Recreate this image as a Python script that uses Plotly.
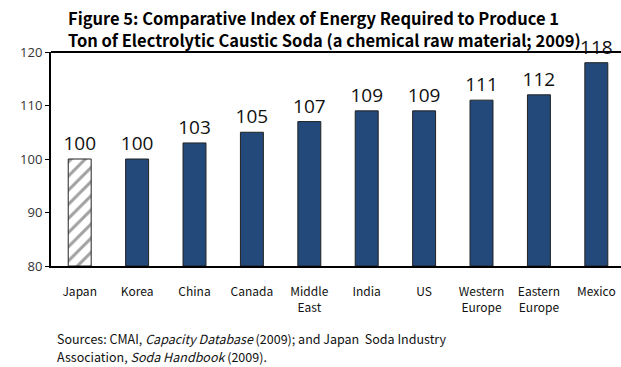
import plotly.graph_objects as go

categories = ["Japan", "Korea", "China", "Canada", "Middle<br>East", "India", "US",
              "Western<br>Europe", "Eastern<br>Europe", "Mexico"]
values = [100, 100, 103, 105, 107, 109, 109, 111, 112, 118]
y_ticks = [80, 90, 100, 110, 120]
base_value = 80
title_lines = ["<b>Figure 5: Comparative Index of Energy Required to Produce 1</b>",
               "<b>Ton of Electrolytic Caustic Soda (a chemical raw material; 2009)</b>"]
source_lines = ["Sources: CMAI, <i>Capacity Database</i> (2009); and Japan  Soda Industry",
                "Association, <i>Soda Handbook</i> (2009)."]

x = list(range(len(categories)))
colors = ["white"] + ["#23497B"] * (len(values) - 1)
patterns = ["/"] + [""] * (len(values) - 1)

fig = go.Figure()
fig.add_trace(go.Bar(
    x=x, y=[v - base_value for v in values], base=base_value,
    marker=dict(color=colors, line=dict(color="#222", width=1),
                pattern=dict(shape=patterns, fgcolor="#222", bgcolor="white",
                             size=10, solidity=0.3)),
    width=0.4,
    text=[str(v) for v in values], textposition="outside",
    constraintext="none",
    textfont=dict(family="Open Sans", size=19, color="#111"),
    cliponaxis=False,
))

fig.update_layout(
    width=621, height=367,
    margin=dict(l=51, r=0, t=52, b=101),
    plot_bgcolor="white", paper_bgcolor="white",
    showlegend=False,
    xaxis=dict(range=[-0.5, 9.43], tickvals=x, ticktext=categories,
               showline=True, linecolor="black", linewidth=2, ticks="",
               tickfont=dict(family="Noto Sans CJK JP", size=12, color="#111"),
               ticklabelstandoff=14, showgrid=False, zeroline=False),
    yaxis=dict(range=[80, 120], tickvals=y_ticks, ticks="outside", ticklen=4,
               tickcolor="black", showline=True, linecolor="black", linewidth=2,
               tickfont=dict(family="Open Sans", size=13, color="#333"),
               showgrid=False, zeroline=False),
)

# top border line
fig.add_shape(type="line", xref="paper", yref="paper", x0=0, x1=1, y0=1, y1=1,
              line=dict(color="black", width=2))

for i, line in enumerate(title_lines):
    fig.add_annotation(
        text=line, xref="paper", yref="paper", x=(66 - 51) / 570, y=1,
        xanchor="left", yanchor="middle", yshift=52 - [18, 40][i],
        showarrow=False, font=dict(family="Noto Sans CJK JP", size=16.5, color="black"))

for i, line in enumerate(source_lines):
    fig.add_annotation(
        text=line, xref="paper", yref="paper", x=(55 - 51) / 570, y=0,
        xanchor="left", yanchor="middle", yshift=266 - [338, 356][i],
        showarrow=False, font=dict(family="Noto Sans CJK JP", size=12.5, color="#111"))

fig.write_html("out.html")
